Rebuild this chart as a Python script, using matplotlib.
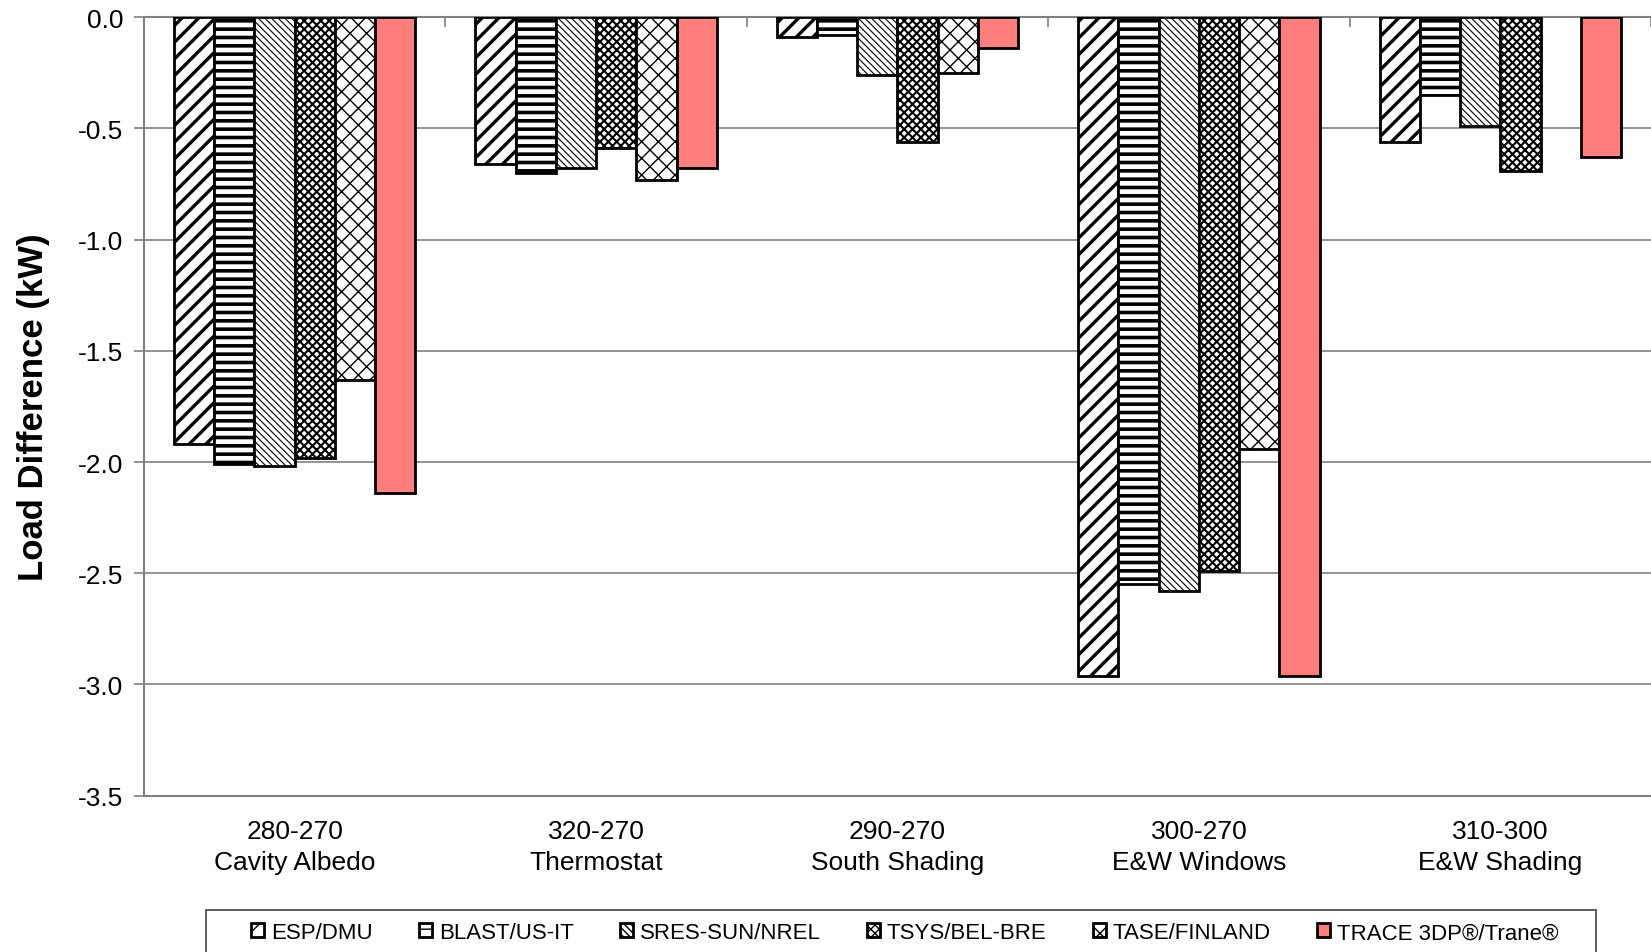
"""
Load difference by parameter change, six programs side by side.
"""

import numpy as np
import matplotlib
matplotlib.use('Agg')
import matplotlib.pyplot as plt
from matplotlib.patches import Rectangle


cases = ['280-270\nCavity Albedo', '320-270\nThermostat', '290-270\nSouth Shading',
         '300-270\nE&W Windows', '310-300\nE&W Shading']
programs = ['ESP/DMU', 'BLAST/US-IT', 'SRES-SUN/NREL', 'TSYS/BEL-BRE',
            'TASE/FINLAND', 'TRACE 3DP®/Trane®']

esp = [-1.92, -0.66, -0.09, -2.96, -0.56]
blast = [-2.01, -0.70, -0.08, -2.55, -0.35]
sres = [-2.02, -0.68, -0.26, -2.58, -0.49]
tsys = [-1.98, -0.59, -0.56, -2.49, -0.69]
tase = [-1.63, -0.73, -0.25, -1.94, np.nan]
trace = [-2.14, -0.68, -0.14, -2.96, -0.63]

series = [esp, blast, sres, tsys, tase, trace]
hatches = ['//', '--', '\\\\\\\\\\', 'xxxx', 'xx', None]
hatch_lw = [2.4, 2.6, 0.8, 1.5, 1.0, 1.0]
faces = ['white'] * 5 + ['#FF7F7F']

plt.rcParams['font.family'] = ['Liberation Sans', 'DejaVu Sans']

fig = plt.figure(figsize=(16.51, 9.53), dpi=100)
ax = fig.add_axes([0.0872, 0.164, 0.9128, 0.817])

x = np.arange(len(cases))
w = 0.1335
for i, vals in enumerate(series):
    with plt.rc_context({'hatch.linewidth': hatch_lw[i], 'hatch.color': 'black'}):
        bars = ax.bar(x + (i - 2.5) * w, vals, w, color=faces[i], edgecolor='black',
                      linewidth=2, hatch=hatches[i], label=programs[i], zorder=3)
        for b in bars:
            if hasattr(b, 'set_hatch_linewidth'):
                b.set_hatch_linewidth(hatch_lw[i])

ax.set_xlim(-0.5, 4.5)
ax.set_ylim(-3.5, 0)
ax.set_yticks(np.arange(-3.5, 0.01, 0.5))
ax.set_yticklabels(['%.1f' % v for v in np.arange(-3.5, 0.01, 0.5)])
ax.yaxis.grid(True, color='#808080', linewidth=1.2, zorder=0)
ax.set_axisbelow(True)

ax.set_xticks(x)
ax.set_xticklabels(cases, fontsize=19, linespacing=1.35)
ax.set_xticks(np.arange(-0.5, 4.6, 1), minor=True)
ax.tick_params(axis='x', which='major', length=0, pad=17)
ax.tick_params(axis='x', which='minor', bottom=False, top=True, direction='in',
               length=7, color='#808080', width=1.2)
ax.tick_params(axis='y', labelsize=19, length=7, color='#808080', width=1.2, pad=8)

for s in ['left', 'bottom', 'top']:
    ax.spines[s].set_color('#808080')
    ax.spines[s].set_linewidth(1.5)
ax.spines['right'].set_visible(False)

ax.set_ylabel('Load Difference (kW)', fontsize=25, fontweight='bold', labelpad=20)

# legend entries spread over the inner width, frame drawn separately
leg = fig.legend(loc='upper left', bbox_to_anchor=(0.1447, -0.02, 0.8065, 0.0641),
                 mode='expand', ncol=6, fontsize=16, frameon=False,
                 handlelength=0.6, handleheight=0.6, handletextpad=0.3,
                 borderpad=0.55, borderaxespad=0)
fig.add_artist(Rectangle((0.1248, -0.05), 0.842, 0.0941, transform=fig.transFigure,
                         facecolor='none', edgecolor='#404040', linewidth=1.2))

plt.savefig('out.png', dpi=100)
